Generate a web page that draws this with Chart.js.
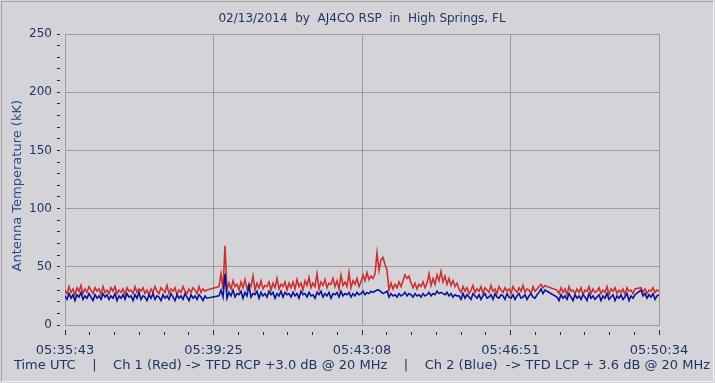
<!DOCTYPE html>
<html><head><meta charset="utf-8">
<script src="https://cdn.jsdelivr.net/npm/chart.js@4.4.1/dist/chart.umd.min.js"></script>
<style>html,body{margin:0;padding:0;background:#d4d4d8;}canvas{display:block;}</style>
</head><body>
<canvas id="c" width="715" height="383"></canvas>
<script>
// ---- text ----
const chartTitle = '02/13/2014  by  AJ4CO RSP  in  High Springs, FL';
const yAxisTitle = 'Antenna Temperature (kK)   ';
const xAxisTitle = 'Time UTC    |    Ch 1 (Red) -> TFD RCP +3.0 dB @ 20 MHz    |    Ch 2 (Blue)  -> TFD LCP + 3.6 dB @ 20 MHz';
// ---- axes ----
const xTickLabels = ['05:35:43', '05:39:25', '05:43:08', '05:46:51', '05:50:34'];
const spanSeconds = 891;      // 05:35:43 -> 05:50:34
const minorPerMajor = 6;
const sampleSeconds = 3;
const yMax = 250, yMinorStep = 10, yMajorStep = 50;
// ---- series (antenna temperature, kK), one sample every 3 s; null = no data ----
const red = [
30,27,33,28,31,26,32,29,34,27,31,28,33,30,27,32,29,31,26,33,
28,30,27,32,29,33,27,30,28,31,26,32,29,30,27,33,28,31,29,32,
27,30,26,31,28,33,29,27,32,30,28,34,27,31,29,32,26,30,28,33,
29,27,31,28,32,30,27,33,28,31,29,30,
null,null,null,null,null,
33,44,31,68,
30,36,31,38,33,35,30,37,32,39,31,35,33,42,30,36,32,38,31,34,
33,37,30,36,32,40,31,35,33,37,30,36,
32,37,31,39,33,36,30,38,34,41,32,36,33,44,31,37,34,39,32,36,
35,40,33,38,31,43,34,37,33,45,32,38,35,40,33,
37,43,38,45,39,42,40,
44,62,47,56,58,52,47,
30,36,31,35,32,37,33,
38,43,40,42,36,
32,36,31,35,33,37,32,
36,44,34,40,35,43,38,
46,
37,42,35,40,34,38,33,36,
31,28,33,29,32,27,30,34,28,31,29,33,27,32,30,28,34,29,31,27,
33,30,28,32,29,31,27,33,30,28,32,29,34,28,31,30,27,33,29,31,
33,35,32,34,33,
null,null,null,null,
30,27,32,28,31,26,33,29,30,27,31,28,32,26,30,29,33,27,31,28,
29,32,27,30,28,33,26,31,29,32,27,30,28,31,26,32,29,30,27,31,
null,null,
32,28,31,27,30,29,32,28,30,29
];
const blue = [
25,22,27,23,26,21,26,24,28,22,25,23,27,24,21,26,23,25,22,27,
24,26,22,25,23,27,21,25,23,26,22,27,24,25,21,26,23,28,22,25,
24,21,26,23,27,22,25,24,21,26,23,25,22,27,24,21,26,23,25,22,
27,24,21,26,23,25,22,26,24,21,25,23,
null,null,null,null,null,
25,30,24,44,
23,28,25,30,24,27,26,29,23,28,25,34,24,27,26,29,23,28,25,27,
24,29,26,28,23,27,25,29,24,28,26,27,
24,28,25,27,23,29,26,27,24,28,25,26,23,28,26,29,24,27,25,28,
23,27,26,28,24,29,25,27,26,28,24,27,25,28,26,
27,29,26,28,27,29,28,
29,30,30,null,27,null,29,
24,27,25,26,24,27,25,
26,28,25,27,26,
24,27,25,26,24,27,25,
26,28,25,27,26,29,27,
28,
27,26,28,25,27,24,26,25,
25,22,27,23,26,24,22,27,25,23,26,22,25,27,23,24,26,22,27,24,
23,26,25,22,27,24,23,26,22,25,27,23,24,26,22,25,27,24,23,26,
28,31,27,30,29,
null,null,null,null,
24,21,26,23,25,22,27,24,21,26,23,25,22,26,24,21,27,23,25,22,
24,26,21,25,23,27,22,24,26,21,25,23,26,22,24,27,21,25,23,26,
null,null,
30,25,27,23,26,24,27,22,25,26
];

// ---- styling ----
const bg = '#d4d4d8';
const gridColor = '#9c9c9e';
const textColor = '#1f3566';
const yTitleColor = '#2b4b8a';
const tickMarkColor = '#1c2c5c';
const fontFamily = '"DejaVu Sans", Verdana, sans-serif';
const clear = 'rgba(0,0,0,0)';

const toPoints = arr => arr.map((v, i) => ({x: i * sampleSeconds, y: v}));

const framePlugin = {
  id: 'frame',
  beforeDraw(chart) {
    const {ctx, width, height} = chart;
    ctx.save();
    ctx.fillStyle = bg;
    ctx.fillRect(0, 0, width, height);
    ctx.lineWidth = 1;
    ctx.strokeStyle = '#a2a2a6';
    ctx.beginPath(); ctx.moveTo(1.5, height - 2); ctx.lineTo(1.5, 1.5); ctx.lineTo(width - 2, 1.5); ctx.stroke();
    ctx.strokeStyle = '#f2f2f2';
    ctx.beginPath(); ctx.moveTo(width - 1.5, 1.5); ctx.lineTo(width - 1.5, height - 1.5); ctx.lineTo(1.5, height - 1.5); ctx.stroke();
    ctx.restore();
  }
};

new Chart(document.getElementById('c'), {
  type: 'line',
  data: {
    datasets: [
      {label: 'Ch 1 (Red)', data: toPoints(red), borderColor: '#cc3030', borderWidth: 1.6, pointRadius: 0, spanGaps: true, tension: 0, order: 1},
      {label: 'Ch 2 (Blue)', data: toPoints(blue), borderColor: '#0a129a', borderWidth: 1.6, pointRadius: 0, spanGaps: true, tension: 0, order: 0}
    ]
  },
  options: {
    responsive: false,
    animation: false,
    devicePixelRatio: 1,
    layout: {padding: {left: 9, right: 0, top: 0, bottom: 0}},
    plugins: {
      legend: {display: false},
      tooltip: {enabled: false},
      title: {
        display: true, text: chartTitle, color: textColor,
        font: {family: fontFamily, size: 12, weight: 'normal'},
        padding: {top: 12, bottom: 7.6}
      },
      subtitle: {
        display: true, position: 'bottom', text: xAxisTitle, color: textColor,
        font: {family: fontFamily, size: 13, weight: 'normal'},
        padding: {top: 0, bottom: 10}
      }
    },
    scales: {
      x: {
        type: 'linear', min: 0, max: spanSeconds,
        afterBuildTicks: s => { s.ticks = Array.from({length: (xTickLabels.length - 1) * minorPerMajor + 1}, (_, k) => ({value: k * spanSeconds / ((xTickLabels.length - 1) * minorPerMajor)})); },
        afterFit: s => { s.height = 32.4; },
        border: {display: true, color: gridColor},
        grid: {
          color: c => (c.index % minorPerMajor === 0 ? gridColor : clear),
          tickColor: tickMarkColor,
          tickLength: 10,
          tickBorderDash: c => (c.index % minorPerMajor === 0 ? [6, 4] : [3, 6]),
          tickBorderDashOffset: c => (c.index % minorPerMajor === 0 ? 6 : 3)
        },
        ticks: {
          autoSkip: false, maxRotation: 0, minRotation: 0, padding: 8, color: textColor,
          font: {family: fontFamily, size: 13},
          callback: (v, i) => (i % minorPerMajor === 0 ? xTickLabels[i / minorPerMajor] : '')
        }
      },
      y: {
        min: 0, max: yMax,
        afterBuildTicks: s => { s.ticks = Array.from({length: yMax / yMinorStep + 1}, (_, k) => ({value: k * yMinorStep})); },
        afterFit: s => { s.width = 56; },
        border: {display: true, color: gridColor},
        grid: {
          color: c => (c.tick && c.tick.value % yMajorStep === 0 ? gridColor : clear),
          tickColor: tickMarkColor,
          tickLength: 8,
          tickBorderDash: [3, 5]
        },
        ticks: {
          autoSkip: false, padding: 5, color: textColor,
          font: {family: fontFamily, size: 12},
          callback: v => (v % yMajorStep === 0 ? String(v) : '')
        },
        title: {display: true, text: yAxisTitle, color: yTitleColor, font: {family: fontFamily, size: 13}, padding: {top: 1, bottom: 0}}
      },
      yRight: {
        position: 'right', display: true, min: 0, max: 1,
        afterFit: s => { s.width = 56; },
        grid: {display: false, drawTicks: false},
        border: {display: false},
        ticks: {display: false}
      }
    }
  },
  plugins: [framePlugin]
});
</script>
</body></html>
